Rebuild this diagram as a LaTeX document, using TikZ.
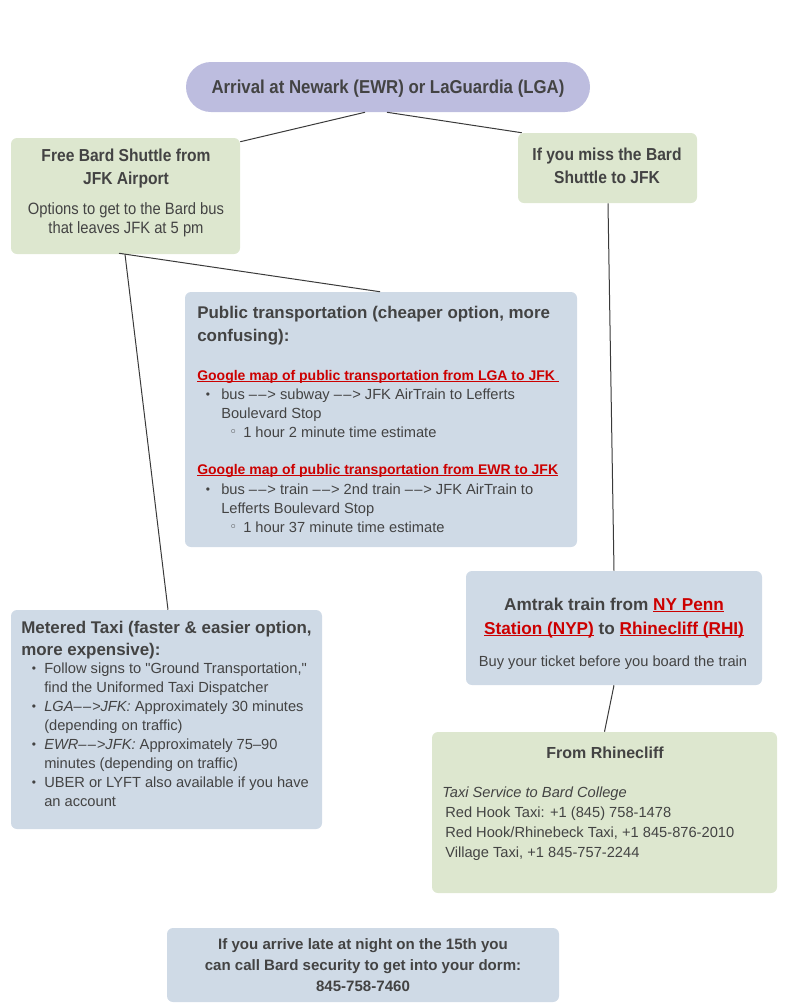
\documentclass[tikz,border=0pt]{standalone}
\usepackage{fontspec}
\setmainfont{Liberation Sans}
\newfontfamily\condfont[FakeStretch=0.9]{Liberation Sans}
\newfontfamily\dejavu{DejaVu Sans}
\usetikzlibrary{fit,calc}
\definecolor{txt}{HTML}{434343}
\definecolor{lnkred}{HTML}{CC0000}
\definecolor{lav}{HTML}{BDBDDF}
\definecolor{grn}{HTML}{DDE7CF}
\definecolor{blu}{HTML}{CFDAE6}
\definecolor{conncol}{HTML}{3A3A3A}
\newdimen\pu \pu=0.75pt
\newcommand{\lnk}[1]{\textcolor{lnkred}{\setbox0\hbox{#1}\rlap{\rule[-1.7pt]{\wd0}{0.75pt}}\box0}}
\newcommand{\bdot}[1][13]{\makebox[#1\pu][l]{\hspace*{0.5\pu}\raisebox{0.3pt}{\fontsize{9pt}{9pt}\selectfont\textbullet}}}
\newcommand{\hdot}{\makebox[14\pu][l]{\raisebox{0.4pt}{\dejavu\fontsize{10pt}{10pt}\selectfont ◦}}}
\newcommand{\arw}{\textendash\kern1pt\textendash\kern0.6pt>}
\tikzset{
  box/.style={inner sep=0pt, rounded corners=4.5pt},
  greenbox/.style={box, fill=grn},
  bluebox/.style={box, fill=blu},
  conn/.style={draw=conncol, line width=0.75pt},
  tx/.style={inner sep=0pt, text=txt},
}
\begin{document}
\begin{tikzpicture}[x=0.75pt,y=-0.75pt]
\useasboundingbox (0,0) rectangle (795,1008);
% boxes
\node[box, fill=lav, rounded corners=18.75pt, fit={(186,62) (590,112)}] (arr) {};
\node[greenbox, fit={(11,138) (240,254)}] (free) {};
\node[greenbox, fit={(518,133) (697,203)}] (miss) {};
\node[bluebox, fit={(185,292) (577,547)}] (pub) {};
\node[bluebox, fit={(11,610) (322,829)}] (taxi) {};
\node[bluebox, fit={(466,571) (762,685)}] (amt) {};
\node[greenbox, fit={(432,732) (777,893)}] (rhc) {};
\node[bluebox, fit={(167,928) (559,1002)}] (late) {};
% connectors
\draw[conn] ($(arr.south)+(-23,0)$) -- ($(free.north east)+(0,4)$);
\draw[conn] ($(arr.south)+(-1,0)$) -- ($(miss.north west)+(4,0)$);
\draw[conn] ($(free.south)+(-6.5,-1)$) -- ($(pub.north)+(-1,0)$);
\draw[conn] ($(free.south)+(-0.5,0)$) -- ($(taxi.north)+(1.5,0)$);
\draw[conn] ($(miss.south)+(0.5,0)$) -- (amt.north);
\draw[conn] (amt.south) -- (rhc.north);
% texts
\node[tx, anchor=base] (arrt) at (388,93) {\condfont\bfseries\fontsize{14pt}{16pt}\selectfont Arrival at Newark (EWR) or LaGuardia (LGA)};
\node[tx, anchor=base] (freet) at (126,161) {\begin{minipage}[t]{220\pu}\centering\condfont\bfseries\fontsize{13pt}{17.25pt}\selectfont Free Bard Shuttle from\\JFK Airport\end{minipage}};
\node[tx, anchor=base] (frees) at (126,214) {\begin{minipage}[t]{220\pu}\centering\condfont\fontsize{12.3pt}{14.25pt}\selectfont Options to get to the Bard bus\\that leaves JFK at 5 pm\end{minipage}};
\node[tx, anchor=base] (misst) at (607,160) {\begin{minipage}[t]{175\pu}\centering\condfont\bfseries\fontsize{13pt}{17.25pt}\selectfont If you miss the Bard\\Shuttle to JFK\end{minipage}};
% public transportation
\node[tx, anchor=base west] (pubh) at (197,318) {\begin{minipage}[t]{375\pu}\bfseries\fontsize{12.7pt}{17.25pt}\selectfont Public transportation (cheaper option, more\\confusing):\end{minipage}};
\node[tx, anchor=base west] (publ1) at (197,380) {\bfseries\fontsize{10.5pt}{12pt}\selectfont\lnk{Google map of public transportation from LGA to JFK\ }};
\node[tx, anchor=base west] (pubb1) at (205,399) {\begin{minipage}[t]{370\pu}\fontsize{11pt}{14.25pt}\selectfont
\bdot[16]bus \arw{} subway \arw{} JFK AirTrain to Lefferts\\
\hspace*{16\pu}Boulevard Stop\\
\hspace*{24\pu}\hdot 1 hour 2 minute time estimate\end{minipage}};
\node[tx, anchor=base west] (publ2) at (197,474) {\bfseries\fontsize{10.5pt}{12pt}\selectfont\lnk{Google map of public transportation from EWR to JFK}};
\node[tx, anchor=base west] (pubb2) at (205,494) {\begin{minipage}[t]{370\pu}\fontsize{11pt}{14.25pt}\selectfont
\bdot[16]bus \arw{} train \arw{} 2nd train \arw{} JFK AirTrain to\\
\hspace*{16\pu}Lefferts Boulevard Stop\\
\hspace*{24\pu}\hdot 1 hour 37 minute time estimate\end{minipage}};
% metered taxi
\node[tx, anchor=base west] (taxih) at (21,633) {\begin{minipage}[t]{300\pu}\bfseries\fontsize{12.7pt}{16.5pt}\selectfont Metered Taxi (faster \& easier option,\\more expensive):\end{minipage}};
\node[tx, anchor=base west] (taxib) at (31,673) {\begin{minipage}[t]{290\pu}\fontsize{11pt}{14.25pt}\selectfont
\bdot Follow signs to \textquotedbl Ground Transportation,\textquotedbl\\
\hspace*{13\pu}find the Uniformed Taxi Dispatcher\\
\bdot \textit{LGA\arw JFK:} Approximately 30 minutes\\
\hspace*{13\pu}(depending on traffic)\\
\bdot \textit{EWR\arw JFK:} Approximately 75\textendash 90\\
\hspace*{13\pu}minutes (depending on traffic)\\
\bdot UBER or LYFT also available if you have\\
\hspace*{13\pu}an account\end{minipage}};
% amtrak
\node[tx, anchor=base] (amth) at (614,610) {\begin{minipage}[t]{290\pu}\centering\bfseries\fontsize{12.9pt}{18pt}\selectfont Amtrak train from \lnk{NY Penn}\\\lnk{Station (NYP)} to \lnk{Rhinecliff (RHI)}\end{minipage}};
\node[tx, anchor=base] (amts) at (613,666) {\fontsize{11pt}{14pt}\selectfont Buy your ticket before you board the train};
% rhinecliff
\node[tx, anchor=base] (rhch) at (605,758) {\bfseries\fontsize{12pt}{14pt}\selectfont From Rhinecliff};
\node[tx, anchor=base west] (rhcb) at (442,797) {\begin{minipage}[t]{330\pu}\fontsize{11pt}{15pt}\selectfont
\textit{Taxi Service to Bard College}\\
\hspace*{3\pu}Red Hook Taxi: +1 (845) 758-1478\\
\hspace*{3\pu}Red Hook/Rhinebeck Taxi, +1 845-876-2010\\
\hspace*{3\pu}Village Taxi, +1 845-757-2244\end{minipage}};
% late
\node[tx, anchor=base] (latet) at (363,949) {\begin{minipage}[t]{380\pu}\centering\bfseries\fontsize{11.3pt}{16.1pt}\selectfont If you arrive late at night on the 15th you\\can call Bard security to get into your dorm:\\845-758-7460\end{minipage}};
\end{tikzpicture}
\end{document}
